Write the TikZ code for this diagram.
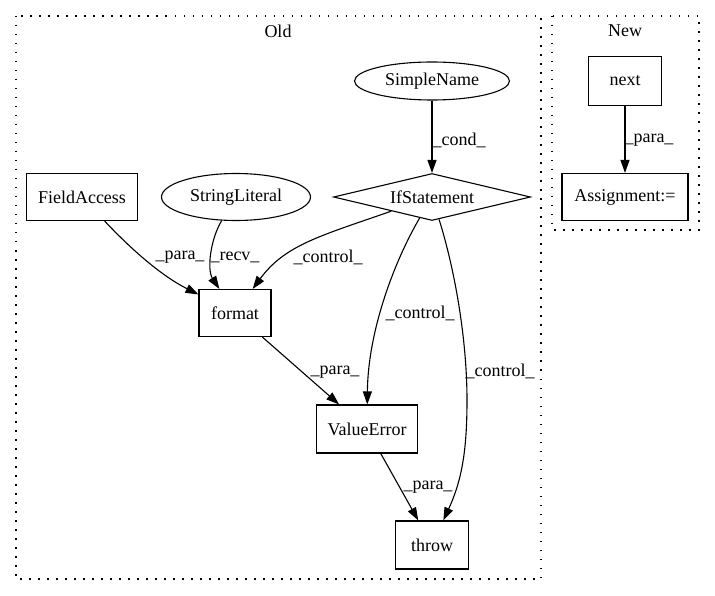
\documentclass[tikz,border=0pt]{standalone}
\usepackage{fontspec}
\setmainfont{Liberation Serif}
\usetikzlibrary{shapes.geometric,arrows.meta}
\begin{document}
\begin{tikzpicture}[x=1pt,y=-1pt,
  every node/.style={font=\fontsize{18}{21}\selectfont, inner sep=0pt},
  box/.style={draw, line width=1.1pt, rectangle},
  ell/.style={draw, line width=1.1pt, ellipse},
  dia/.style={draw, line width=1.1pt, diamond, aspect=4.19},
  edge/.style={draw, line width=1.1pt, -{Triangle[length=13pt,width=9pt]}},
  cluster/.style={draw, line width=1.3pt, dash pattern=on 1.5pt off 7.5pt},
  lbl/.style={}]
\useasboundingbox (0,0) rectangle (715,596);
% clusters
\draw[cluster] (16,16) rectangle (541,579);
\draw[cluster] (552,16) rectangle (699,230);
\node (oldlbl) at (278,31) {Old};
\node (newlbl) at (625,31) {New};
% nodes
\node[ell, minimum width=155pt, minimum height=38pt] (sn) at (432,81) {SimpleName};
\node[dia, minimum width=197pt, minimum height=47pt] (ifs) at (432,197) {IfStatement};
\node[box, minimum width=111pt, minimum height=47pt] (fa) at (82,197) {FieldAccess};
\node[ell, minimum width=149pt, minimum height=47pt] (sl) at (236,197) {StringLiteral};
\node[box, minimum width=72pt, minimum height=47pt] (fmt) at (235,313) {format};
\node[box, minimum width=101pt, minimum height=48pt] (ve) at (367,429) {ValueError};
\node[box, minimum width=73pt, minimum height=48pt] (thr) at (432,545) {throw};
\node[box, minimum width=73pt, minimum height=49pt] (nx) at (625,81) {next};
\node[box, minimum width=126pt, minimum height=47pt] (asg) at (625,197) {Assignment:=};
% edges
\draw[edge] (sn) -- (ifs);
\draw[edge] (nx) -- (asg);
\draw[edge] (fa) .. controls (130,248) and (160,275) .. (fmt);
\draw[edge] (sl) .. controls (210,240) and (207,270) .. (fmt);
\draw[edge] (ifs) .. controls (320,236) and (285,245) .. (fmt);
\draw[edge] (ifs) .. controls (395,260) and (368,330) .. (ve);
\draw[edge] (ifs) .. controls (455,270) and (467,340) .. (467,400) .. controls (467,450) and (462,480) .. (thr);
\draw[edge] (fmt) -- (ve);
\draw[edge] (ve) -- (thr);
% edge labels
\node[lbl] (l1) at (459,140) {\_cond\_};
\node[lbl] (l2) at (649,140) {\_para\_};
\node[lbl] (l3) at (180,257) {\_para\_};
\node[lbl] (l4) at (235,257) {\_recv\_};
\node[lbl] (l5) at (328,257) {\_control\_};
\node[lbl] (l6) at (420,313) {\_control\_};
\node[lbl] (l7) at (500,371) {\_control\_};
\node[lbl] (l8) at (335,372) {\_para\_};
\node[lbl] (l9) at (428,487) {\_para\_};
\end{tikzpicture}
\end{document}
